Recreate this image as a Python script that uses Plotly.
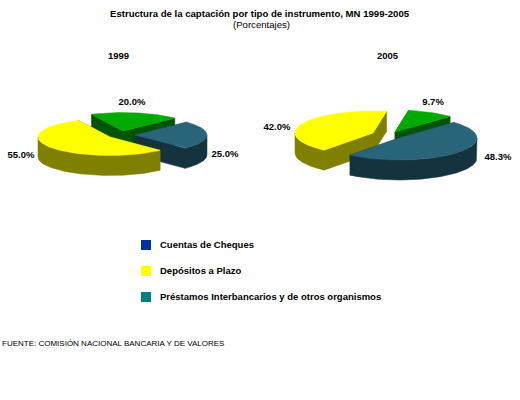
import numpy as np
import plotly.graph_objects as go

slices = ["Otros", "Depósitos a Plazo", "Préstamos Interbancarios"]
values_1999 = [20.0, 55.0, 25.0]
values_2005 = [9.7, 42.0, 48.3]
labels_1999 = ["20.0%", "55.0%", "25.0%"]
labels_2005 = ["9.7%", "42.0%", "48.3%"]

legend_names = ["Cuentas de Cheques", "Depósitos a Plazo", "Préstamos Interbancarios y de otros organismos"]
legend_colors = ["#0033A0", "#FFFF00", "#008080"]

top_colors = ["#00AA00", "#FFFF00", "#2A6478"]
side_colors = ["#005500", "#808000", "#15333F"]

FONT = "Liberation Sans"
DEPTH = 20


def wedge(cx, cy, a, b, t1, t2):
    t = np.radians(np.linspace(t1, t2, 90))
    return cx + a * np.cos(t), cy - b * np.sin(t)


def add_slice(fig, apex, a, b, t1, t2, top, side):
    cx, cy = apex
    xs, ys = wedge(cx, cy, a, b, t1, t2)
    # cut faces first, then the rim, then the top
    for i in (0, -1):
        fig.add_trace(go.Scatter(
            x=[cx, xs[i], xs[i], cx, cx],
            y=[cy, ys[i], ys[i] + DEPTH, cy + DEPTH, cy],
            mode="lines", fill="toself", fillcolor=side, line=dict(color=side, width=0.5),
            hoverinfo="skip", showlegend=False))
    # only the front half of the rim shows
    r1, r2 = max(t1, 180), min(t2, 360)
    if r2 > r1:
        rx, ry = wedge(cx, cy, a, b, r1, r2)
        fig.add_trace(go.Scatter(
            x=np.r_[rx, rx[::-1], rx[0]],
            y=np.r_[ry, ry[::-1] + DEPTH, ry[0]],
            mode="lines", fill="toself", fillcolor=side, line=dict(color=side, width=0.5),
            hoverinfo="skip", showlegend=False))
    fig.add_trace(go.Scatter(
        x=np.r_[cx, xs, cx],
        y=np.r_[cy, ys, cy],
        mode="lines", fill="toself", fillcolor=top, line=dict(color=top, width=0.5),
        hoverinfo="skip", showlegend=False))


def add_pie(fig, values, start, apexes, a, b, order):
    angles = start + np.r_[0, np.cumsum(values)] * 3.6
    for i in order:
        add_slice(fig, apexes[i], a, b, angles[i], angles[i + 1], top_colors[i], side_colors[i])


fig = go.Figure()
add_pie(fig, values_1999, 44, [(123, 131), (110, 137), (135, 135)], 72, 18.5, [0, 2, 1])
add_pie(fig, values_2005, 45, [(395, 132), (373, 133), (399, 138)], 78, 22, [0, 1, 2])

# data labels
fig.add_trace(go.Scatter(
    x=[132, 21, 225, 433, 277, 498],
    y=[103, 156, 155, 103, 128, 158],
    text=labels_1999 + labels_2005,
    mode="text", textposition="middle center",
    textfont=dict(family=FONT, size=9.5, color="black", weight="bold"),
    hoverinfo="skip", showlegend=False))

# legend rows
fig.add_trace(go.Scatter(
    x=[146, 146, 146], y=[245, 271, 297],
    mode="markers",
    marker=dict(symbol="square", size=10, color=legend_colors),
    hoverinfo="skip", showlegend=False))
fig.add_trace(go.Scatter(
    x=[160, 160, 160], y=[246, 272, 298],
    text=legend_names,
    mode="text", textposition="middle right",
    textfont=dict(family=FONT, size=9.5, color="black", weight="bold"),
    hoverinfo="skip", showlegend=False))


def note(x, y, text, size, bold=False, anchor="center"):
    fig.add_annotation(
        x=x, y=y, text=text, showarrow=False, xanchor=anchor, yanchor="middle",
        font=dict(family=FONT, size=size, color="black", weight="bold" if bold else "normal"))


note(260, 13, "Estructura de la captación por tipo de instrumento, MN 1999-2005", 9.6, True)
note(261, 24, "(Porcentajes)", 9.6)
note(118, 55, "1999", 9.5, True)
note(388, 55, "2005", 9.5, True)
note(0, 343, "FUENTE: COMISIÓN NACIONAL BANCARIA Y DE VALORES", 8, anchor="left")

fig.update_layout(
    width=520, height=400,
    margin=dict(l=0, r=0, t=0, b=0),
    paper_bgcolor="white", plot_bgcolor="white",
    xaxis=dict(range=[0, 520], visible=False),
    yaxis=dict(range=[400, 0], visible=False),
    showlegend=False,
)

fig.write_html("out.html", config={"displayModeBar": False}, post_script="document.body.style.margin='0';")
